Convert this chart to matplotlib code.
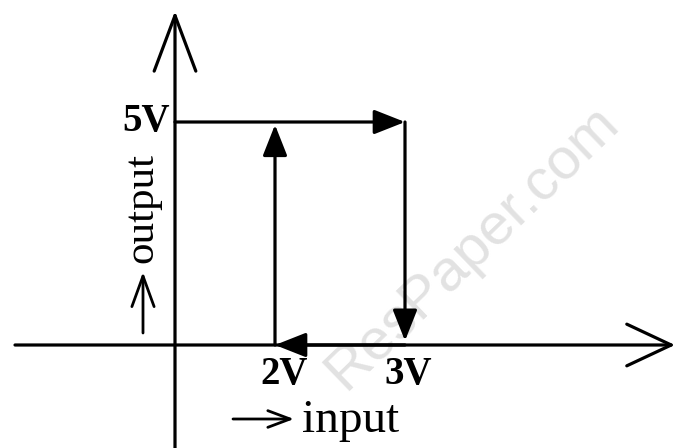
import numpy as np
import matplotlib
matplotlib.use("Agg")
import matplotlib.pyplot as plt

# switching thresholds and output level (volts)
v_low = 2
v_high = 3
v_out = 5

# hysteresis loop, in the order it is traversed
loop_x = [0, v_high, v_high, v_low, v_low]
loop_y = [v_out, v_out, 0, 0, v_out]
loop_gap = [0, 3, 0, 2]  # how far each head stops short of its end point

tick_labels = ["2V", "3V"]
level_label = "5V"

# schematic drawing is not to scale: piecewise linear x scale
scale_in = [-20, 0, v_low, v_high, 20]
scale_out = [-1000, 0, 100, 230, 230 + 17 * 130]


def fwd(x):
    return np.interp(x, scale_in, scale_out)


def inv(p):
    return np.interp(p, scale_out, scale_in)


W, H = 677, 448
fig = plt.figure(figsize=(W / 100, H / 100), dpi=100)
ax = fig.add_axes([0, 0, 1, 1])
ax.set_xscale("function", functions=(fwd, inv))
ax.set_xlim(inv(-175), inv(W - 175))
ypx = 44.6
ax.set_ylim(-103 / ypx, (H - 103) / ypx)
ax.axis("off")


def fpos(px, py):
    return px / W, 1 - py / H


lw = 2.3
# axes with open arrow heads
ax.annotate("", xy=(inv(500), 0), xytext=(inv(-160), 0),
            arrowprops=dict(arrowstyle="->,head_length=32,head_width=15",
                            mutation_scale=1, lw=lw, color="black",
                            shrinkA=0, shrinkB=0))
ax.annotate("", xy=(0, (437 - 103) / ypx), xytext=(0, -103 / ypx),
            arrowprops=dict(arrowstyle="->,head_length=40,head_width=15",
                            mutation_scale=1, lw=lw, color="black",
                            shrinkA=0, shrinkB=0))

# loop segments with filled heads
for i in range(len(loop_x) - 1):
    ax.annotate("", xy=(loop_x[i + 1], loop_y[i + 1]),
                xytext=(loop_x[i], loop_y[i]),
                arrowprops=dict(arrowstyle="-|>,head_length=19,head_width=7.5",
                                mutation_scale=1, lw=lw, color="black",
                                shrinkA=0, shrinkB=loop_gap[i]))

serif = "Liberation Serif"
ax.text(*fpos(170, 121), level_label, transform=fig.transFigure,
        family=serif, weight="bold", fontsize=28, ha="right", va="center")
ax.text(*fpos(284, 374), tick_labels[0], transform=fig.transFigure,
        family=serif, weight="bold", fontsize=28, ha="center", va="center")
ax.text(*fpos(408, 374), tick_labels[1], transform=fig.transFigure,
        family=serif, weight="bold", fontsize=28, ha="center", va="center")

ax.text(*fpos(302, 432), "input", transform=fig.transFigure,
        family=serif, fontsize=34, ha="left", va="baseline")
ax.text(*fpos(142, 208), "output", transform=fig.transFigure,
        family=serif, fontsize=31, ha="center", va="center", rotation=90)

# small direction arrows beside the axis names
ax.annotate("", xy=fpos(294, 419), xytext=fpos(233, 419),
            xycoords="figure fraction", textcoords="figure fraction",
            arrowprops=dict(arrowstyle="->,head_length=16,head_width=6",
                            mutation_scale=1, lw=2, color="black",
                            shrinkA=0, shrinkB=0))
ax.annotate("", xy=fpos(143, 272), xytext=fpos(143, 333),
            xycoords="figure fraction", textcoords="figure fraction",
            arrowprops=dict(arrowstyle="->,head_length=22,head_width=8",
                            mutation_scale=1, lw=2, color="black",
                            shrinkA=0, shrinkB=0))

# watermark
ax.text(*fpos(472, 247), "ResPaper.com", transform=fig.transFigure,
        family="Liberation Sans", fontsize=42, color="#e2e2e2",
        rotation=44, ha="center", va="center", zorder=0)

fig.savefig("out.png", dpi=100, facecolor="white")
